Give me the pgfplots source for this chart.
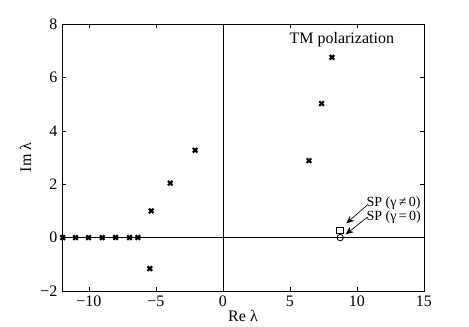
\documentclass[border=0pt]{standalone}
\usepackage{fontspec}
\setmainfont{Liberation Serif}
\usepackage{pgfplots}
\pgfplotsset{compat=1.18}
\usetikzlibrary{arrows.meta}
\begin{document}
\begin{tikzpicture}
\path[use as bounding box] (-46.5pt,-27pt) rectangle (305.25pt,218.25pt);
\begin{axis}[
  at={(0,0)}, anchor=south west,
  scale only axis, width=271.5pt, height=200.25pt,
  xmin=-12, xmax=15, ymin=-2, ymax=8,
  xtick={-10,-5,0,5,10,15}, xticklabels={−10,−5,0,5,10,15},
  ytick={-2,0,2,4,6,8}, yticklabels={−2,0,2,4,6,8},
  tick align=inside, major tick length=3pt,
  tick style={black, line width=0.4pt},
  axis line style={line width=0.6pt},
  ticklabel style={font=\fontsize{12}{14}\selectfont},
  label style={font=\fontsize{12}{14}\selectfont},
  xlabel={Re λ}, ylabel={Im λ},
  xlabel style={yshift=4pt}, ylabel style={yshift=0pt},
  clip=false,
]
\draw[line width=0.5pt] (axis cs:-12,0) -- (axis cs:15,0);
\draw[line width=0.5pt] (axis cs:0,-2) -- (axis cs:0,8);
\addplot[only marks, mark=x, mark size=2.4pt, line width=1.6pt] coordinates {
(-11.95,0) (-10.99,0) (-10.02,0) (-9.0,0) (-8.0,0) (-6.96,0) (-6.34,0)
(-5.35,1.0) (-5.45,-1.16) (-3.93,2.04) (-2.07,3.27)
(6.42,2.88) (7.36,5.02) (8.13,6.75)
};
\addplot[only marks, mark=square, mark size=2.4pt, line width=0.6pt] coordinates {(8.73,0.28)};
\addplot[only marks, mark=o, mark size=2.4pt, line width=0.6pt] coordinates {(8.75,0)};
\node[font=\fontsize{12}{14}\selectfont] at (axis cs:8.87,7.43) {TM polarization};
\node[anchor=west, inner sep=0pt, font=\fontsize{10.5}{12}\selectfont] at (axis cs:10.7,1.3) {SP (γ\,≠\,0)};
\node[anchor=west, inner sep=0pt, font=\fontsize{10.5}{12}\selectfont] at (axis cs:10.7,0.78) {SP (γ\,=\,0)};
\draw[-{Stealth[length=6pt,width=5pt,inset=2pt]}, line width=0.5pt] (axis cs:10.75,1.21) -- (axis cs:9.2,0.53);
\draw[-{Stealth[length=6pt,width=5pt,inset=2pt]}, line width=0.5pt] (axis cs:10.8,0.77) -- (axis cs:9.15,0.12);
\end{axis}
\end{tikzpicture}
\end{document}
